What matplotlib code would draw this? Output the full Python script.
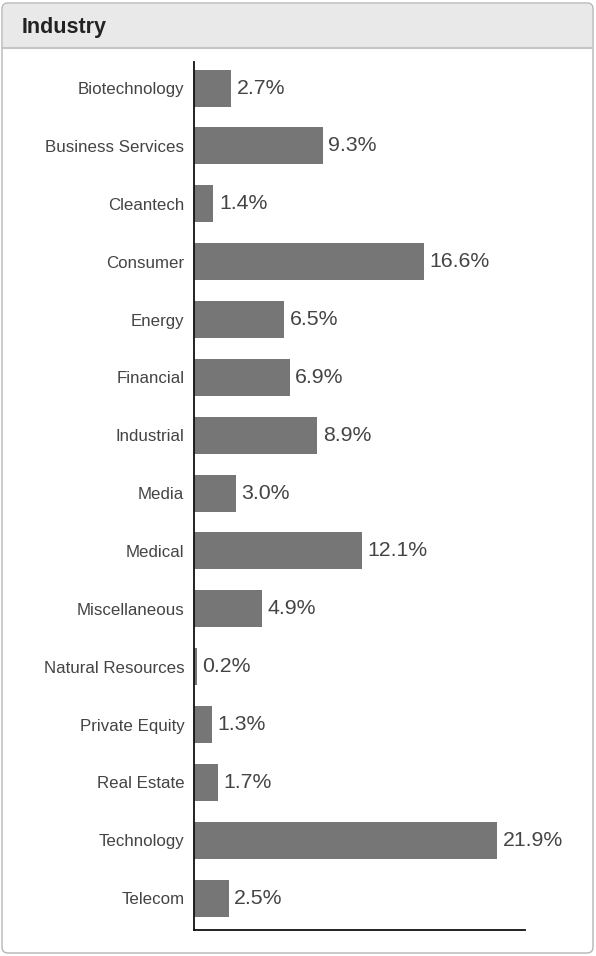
import matplotlib.pyplot as plt
from matplotlib.patches import FancyBboxPatch, Rectangle

plt.rcParams['font.family'] = ['Liberation Sans', 'DejaVu Sans']

# data
industries = ["Biotechnology", "Business Services", "Cleantech", "Consumer", "Energy",
              "Financial", "Industrial", "Media", "Medical", "Miscellaneous",
              "Natural Resources", "Private Equity", "Real Estate", "Technology", "Telecom"]
shares = [2.7, 9.3, 1.4, 16.6, 6.5, 6.9, 8.9, 3.0, 12.1, 4.9, 0.2, 1.3, 1.7, 21.9, 2.5]
title = "Industry"

W, H = 596, 956
fig = plt.figure(figsize=(W / 100, H / 100), dpi=100)

# background panel, drawn in pixel coords
bg = fig.add_axes([0, 0, 1, 1])
bg.set_xlim(0, W)
bg.set_ylim(H, 0)
bg.axis("off")
bg.add_patch(FancyBboxPatch((2, 3), 591, 950, boxstyle="round,pad=0,rounding_size=6",
                            facecolor="white", edgecolor="#b5b5b5", linewidth=1.0))
bg.add_patch(FancyBboxPatch((3, 4), 589, 44, boxstyle="round,pad=0,rounding_size=5",
                            facecolor="#e9e9e9", edgecolor="none"))
bg.add_patch(Rectangle((3, 30), 589, 18, facecolor="#e9e9e9", edgecolor="none"))
bg.plot([3, 592], [48, 48], color="#c4c4c4", linewidth=1.5)
bg.text(22, 27, title, fontsize=15.5, fontweight="bold", color="#222222",
        va="center", ha="left")

# bar chart
left, right, top, bottom = 194, 525, 62, 930
ax = fig.add_axes([left / W, 1 - bottom / H, (right - left) / W, (bottom - top) / H])
pos = list(range(len(industries)))
ax.barh(pos, shares, height=0.64, color="#767676")
ax.set_xlim(0, 23.9)
ax.set_ylim(len(industries) - 0.45, -0.45)

for p, v in zip(pos, shares):
    ax.text(v + 0.4, p, f"{v:.1f}%", va="center", ha="left", fontsize=15.3, color="#444444")

ax.set_yticks(pos)
ax.set_yticklabels(industries, fontsize=12.2, color="#444444")
ax.tick_params(axis="y", length=0, pad=7)
ax.set_xticks([])
for s in ["top", "right"]:
    ax.spines[s].set_visible(False)
for s in ["left", "bottom"]:
    ax.spines[s].set_color("#111111")
    ax.spines[s].set_linewidth(1.3)

fig.savefig("out.png", dpi=100)
